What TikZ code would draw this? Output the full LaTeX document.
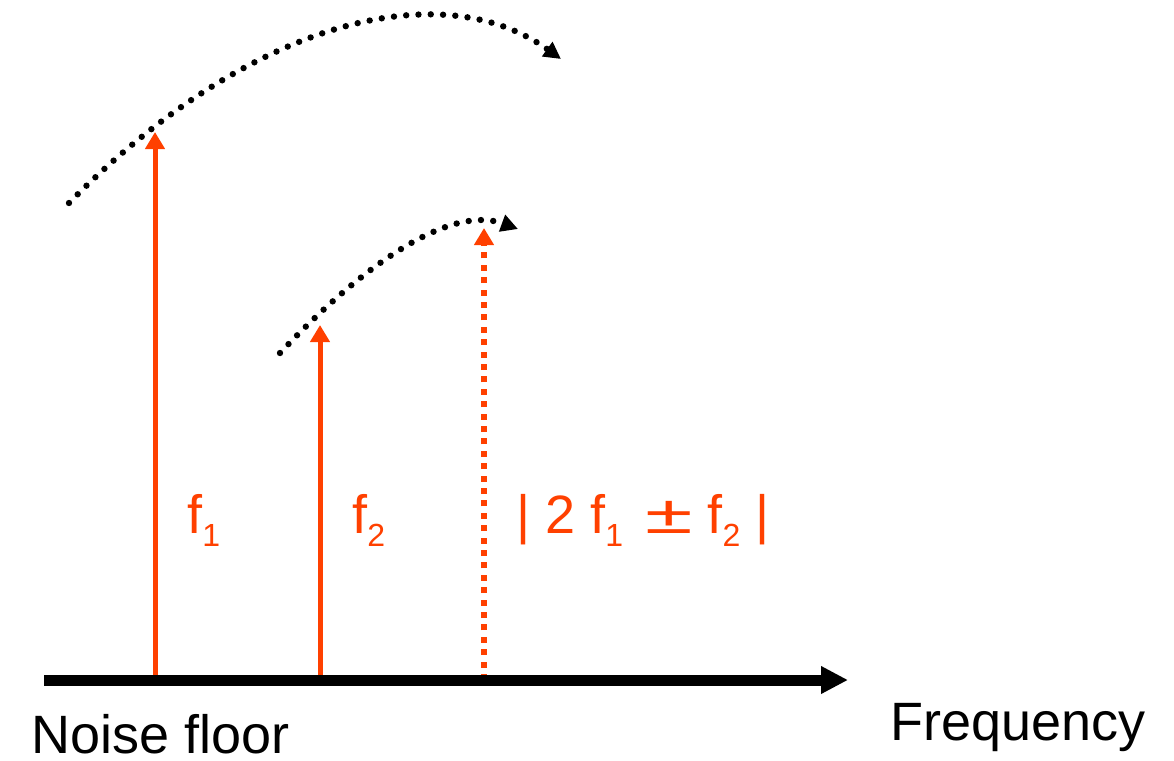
\documentclass[tikz,border=0pt]{standalone}
\usepackage{fontspec}
\setmainfont{Liberation Sans}
\usetikzlibrary{arrows.meta,positioning}
\definecolor{tone}{RGB}{255,64,0}
\newcommand\subidx[1]{\raisebox{-6.5pt}{\fontsize{16}{18}\selectfont #1}}
\newcommand\wideplusminus{\hspace{3.5pt}\scalebox{1.6}[1.0]{±}}

\begin{document}
\begin{tikzpicture}[x=0.5pt,y=-0.5pt,
  toneline/.style={tone, line width=2.5pt, -{Triangle[length=8.5pt,width=9.5pt]}},
  sweep/.style={line width=3.2pt, line cap=round, dash pattern=on 0pt off 6.15pt,
    -{Triangle[length=8.5pt,width=8.5pt]}},
  lbl/.style={inner sep=0pt, anchor=base west, font=\fontsize{27}{31}\selectfont}]
  \useasboundingbox (0,0) rectangle (1174,761);
  % axis end points
  \coordinate (ax0) at (44,680);
  \coordinate (ax1) at (848,680);
  % tones
  \coordinate (b1) at (155,680);
  \coordinate (t1) at (155,132);
  \coordinate (b2) at (320,680);
  \coordinate (t2) at (320,325);
  \coordinate (b3) at (484,680);
  \coordinate (t3) at (484,228);
  \draw[toneline] (b1) -- (t1);
  \draw[toneline] (b2) -- (t2);
  \draw[toneline, line width=3pt, dash pattern=on 3pt off 3.2pt] (b3) -- (t3);
  % frequency axis
  \draw[line width=5.5pt, -{Triangle[length=13.5pt,width=13pt]}] (ax0) -- (ax1);
  % sweeps (schematic)
  \coordinate (s1) at (69,203);
  \coordinate (e1) at (561,59);
  \coordinate (s2) at (280,353);
  \coordinate (e2) at (518,229);
  \draw[sweep] (s1) .. controls (247,22) and (440,-28) .. (e1);
  \draw[sweep] (s2) .. controls (379,248) and (458,207) .. (e2);
  % labels
  \node[lbl] (noise) at (31,753) {Noise floor};
  \node[lbl] (freq) at (890,740) {Frequency};
  \node[lbl, tone] (f1lbl) at (187,533) {f\subidx{1}};
  \node[lbl, tone] (f2lbl) at (352,533) {f\subidx{2}};
  \node[lbl, tone] (mixlbl) at (516,533) {| 2 f\subidx{1} \wideplusminus{} f\subidx{2} |};
\end{tikzpicture}
\end{document}
